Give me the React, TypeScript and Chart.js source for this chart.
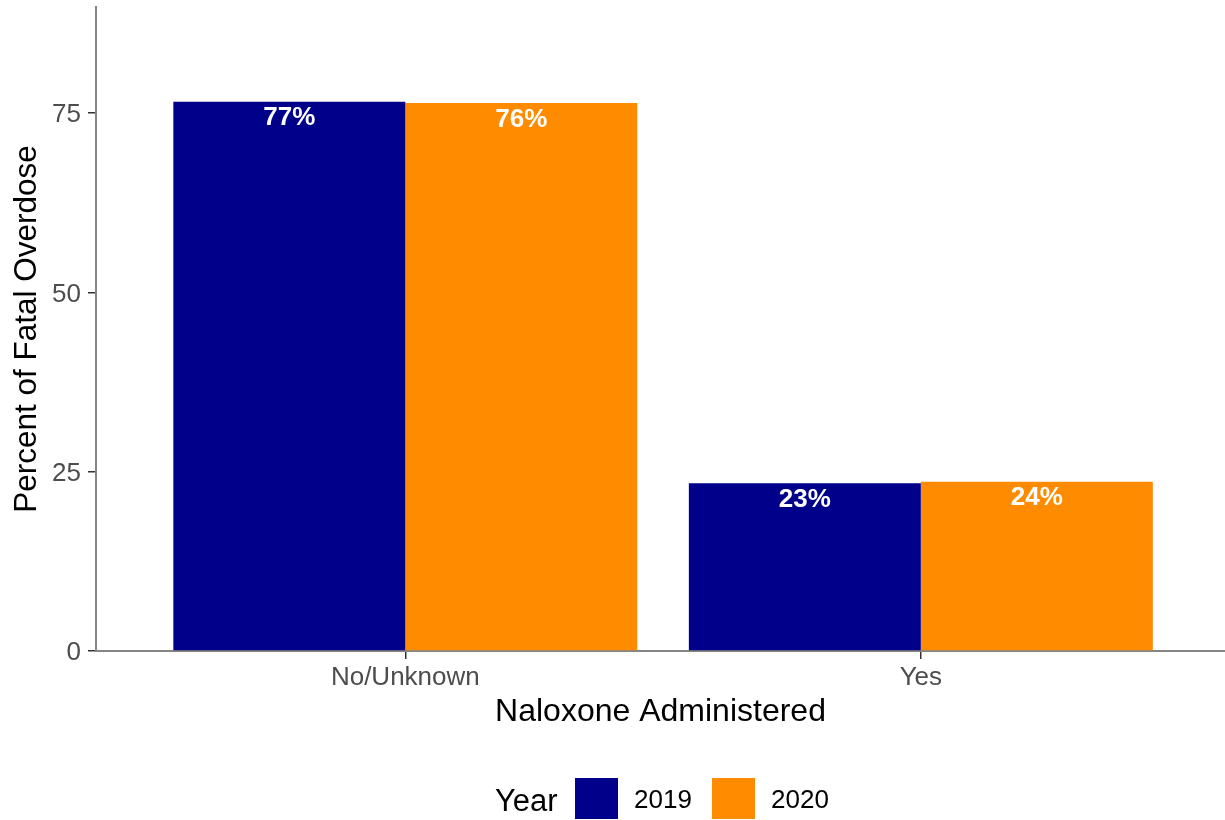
import React, { useEffect, useRef } from 'react';
import { Chart, registerables } from 'chart.js';

Chart.register(...registerables);

const categories = ['No/Unknown', 'Yes'];
const years = ['2019', '2020'];
const values2019 = [76.6, 23.4];
const values2020 = [76.4, 23.6];
const yTickValues = [0, 25, 50, 75];
const yMax = 89.8;
const xTitle = 'Naloxone Administered';
const yTitle = 'Percent of Fatal Overdose';
const legendTitle = 'Year';
const colors = ['#00008B', '#FF8C00'];

const FONT = "'Liberation Sans', Arial, Helvetica, sans-serif";

export default function App() {
  const ref = useRef<HTMLCanvasElement>(null);

  useEffect(() => {
    if (!ref.current) return;

    const labelPlugin = {
      id: 'barLabels',
      afterDatasetsDraw(chart: any) {
        const ctx = chart.ctx;
        ctx.save();
        ctx.font = `bold 26px ${FONT}`;
        ctx.fillStyle = '#FFFFFF';
        ctx.textAlign = 'center';
        ctx.textBaseline = 'middle';
        chart.data.datasets.forEach((ds: any, i: number) => {
          const meta = chart.getDatasetMeta(i);
          meta.data.forEach((el: any, j: number) => {
            const v = ds.data[j].y;
            ctx.fillText(Math.round(v) + '%', el.x, el.y + 16.3);
          });
        });
        ctx.restore();
      },
    };

    const legendPlugin = {
      id: 'bottomLegend',
      afterDraw(chart: any) {
        const ctx = chart.ctx;
        ctx.save();
        ctx.textAlign = 'left';
        ctx.textBaseline = 'alphabetic';
        ctx.fillStyle = '#000000';
        ctx.font = `31px ${FONT}`;
        ctx.fillText(legendTitle, 495, 810.7);
        const boxLefts = [575, 712];
        const textLefts = [634, 771];
        years.forEach((y, i) => {
          ctx.fillStyle = colors[i];
          ctx.fillRect(boxLefts[i], 778, 43, 41);
          ctx.fillStyle = '#000000';
          ctx.font = `26px ${FONT}`;
          ctx.fillText(y, textLefts[i], 808);
        });
        ctx.restore();
      },
    };

    const chart = new Chart(ref.current, {
      type: 'bar',
      data: {
        datasets: [
          {
            label: years[0],
            data: categories.map((_, i) => ({ x: i, y: values2019[i] })),
            backgroundColor: colors[0],
            borderWidth: 0,
          },
          {
            label: years[1],
            data: categories.map((_, i) => ({ x: i, y: values2020[i] })),
            backgroundColor: colors[1],
            borderWidth: 0,
          },
        ],
      },
      options: {
        animation: false,
        responsive: false,
        devicePixelRatio: 1,
        layout: { padding: { top: 7, left: 0, right: 0, bottom: 0 } },
        plugins: {
          legend: { display: false },
          tooltip: { enabled: false },
        },
        datasets: {
          bar: { categoryPercentage: 0.9, barPercentage: 1 },
        },
        scales: {
          x: {
            type: 'linear',
            min: -0.6,
            max: 1.59,
            offset: false,
            afterBuildTicks: (s: any) => {
              s.ticks = categories.map((_, i) => ({ value: i }));
            },
            afterFit: (s: any) => {
              s.height = 169;
              s.paddingLeft = 0;
              s.paddingRight = 0;
            },
            grid: {
              offset: false,
              drawOnChartArea: false,
              drawTicks: true,
              tickLength: 8,
              color: '#333333',
              lineWidth: 1.5,
            },
            border: { display: true, color: '#858585', width: 2 },
            ticks: {
              callback: (v: any) => categories[v] ?? '',
              color: '#4D4D4D',
              font: { family: FONT, size: 26 },
              padding: 3,
              maxRotation: 0,
              autoSkip: false,
            },
            title: {
              display: true,
              text: xTitle,
              color: '#000000',
              font: { family: FONT, size: 32 },
              padding: { top: 0, bottom: 88.5 },
            },
          },
          y: {
            type: 'linear',
            min: 0,
            max: yMax,
            afterBuildTicks: (s: any) => {
              s.ticks = yTickValues.map((v) => ({ value: v }));
            },
            afterFit: (s: any) => {
              s.width = 96;
              s.paddingTop = 0;
              s.paddingBottom = 0;
            },
            grid: {
              drawOnChartArea: false,
              drawTicks: true,
              tickLength: 8,
              color: '#333333',
              lineWidth: 1.5,
            },
            border: { display: true, color: '#858585', width: 2 },
            ticks: {
              color: '#4D4D4D',
              font: { family: FONT, size: 26 },
              padding: 7,
              labelOffset: 2,
            },
            title: {
              display: true,
              text: yTitle,
              color: '#000000',
              font: { family: FONT, size: 31.5 },
              padding: { top: 8.5, bottom: 0 },
            },
          },
        },
      },
      plugins: [labelPlugin, legendPlugin],
    } as any);

    return () => chart.destroy();
  }, []);

  return (
    <div style={{ position: 'absolute', left: 0, top: 0, width: 1225, height: 820, background: '#FFFFFF' }}>
      <canvas ref={ref} width={1225} height={820} style={{ display: 'block', width: 1225, height: 820 }} />
    </div>
  );
}
